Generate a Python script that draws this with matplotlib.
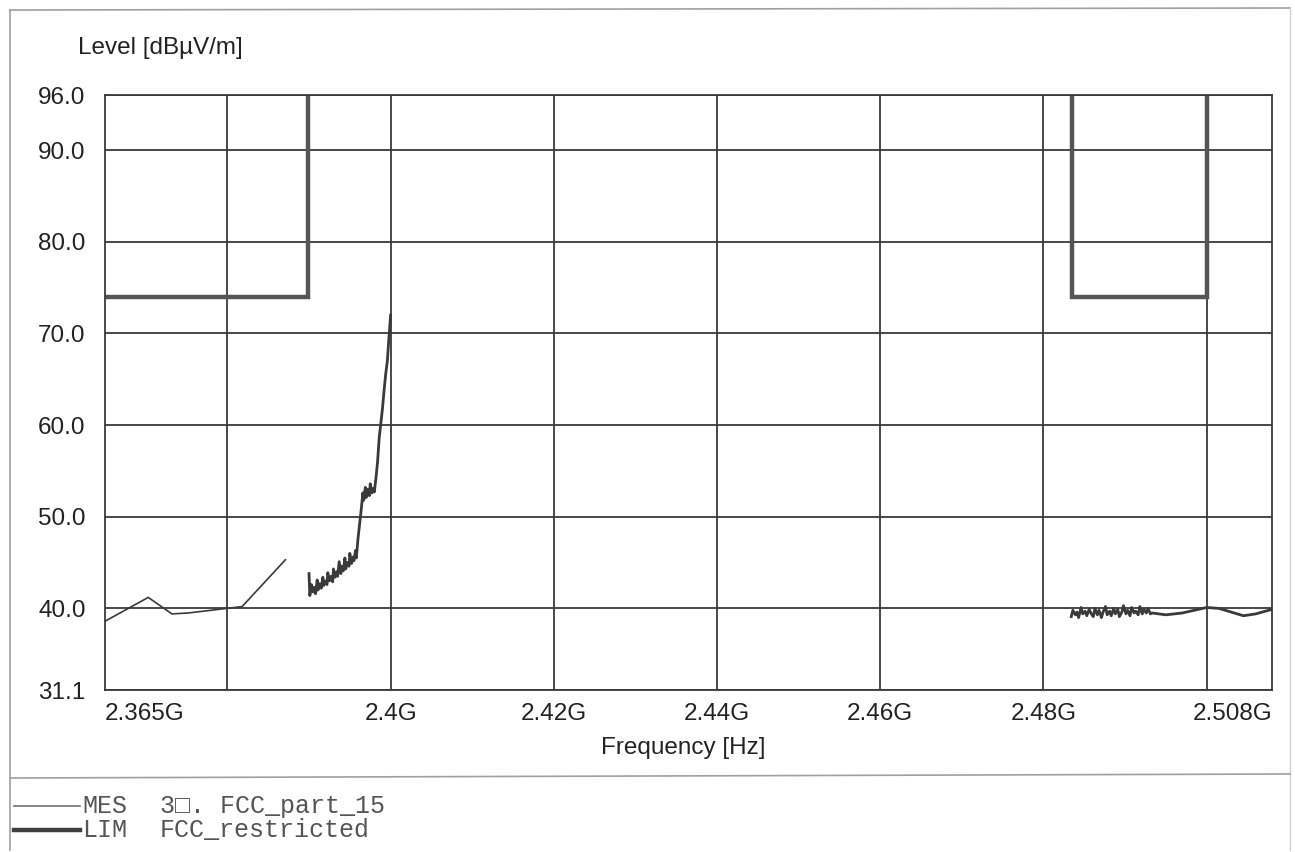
import numpy as np
import matplotlib.pyplot as plt
from matplotlib.lines import Line2D

# measured trace (MES), three sweeps, frequency in GHz, level in dBuV/m
f_scan1 = [2.365, 2.3703, 2.3732, 2.3752, 2.3799, 2.3818, 2.3871]
l_scan1 = [38.6, 41.2, 39.4, 39.5, 40.0, 40.2, 45.3]

f_scan2 = [2.3900, 2.3901, 2.3903, 2.3905, 2.3906, 2.3908, 2.3910, 2.3911, 2.3913, 2.3915,
           2.3917, 2.3918, 2.3920, 2.3922, 2.3923, 2.3925, 2.3927, 2.3929, 2.3930, 2.3932,
           2.3934, 2.3935, 2.3937, 2.3939, 2.3940, 2.3942, 2.3944, 2.3945, 2.3947, 2.3949,
           2.3950, 2.3952, 2.3954, 2.3955, 2.3957, 2.3958, 2.3960, 2.3962, 2.3964, 2.3966,
           2.3967, 2.3969, 2.3970, 2.3972, 2.3974, 2.3975, 2.3977, 2.3979, 2.3980, 2.3982,
           2.3984, 2.3986, 2.3988, 2.3990, 2.3992, 2.3994, 2.3996, 2.3998, 2.4000]
l_scan2 = [43.8, 41.4, 42.6, 41.8, 42.3, 41.6, 43.1, 42.0, 42.7, 42.2,
           43.4, 42.5, 43.0, 42.6, 43.9, 43.0, 43.5, 42.9, 44.3, 43.4,
           44.0, 43.5, 45.1, 43.8, 44.6, 44.1, 45.5, 44.3, 45.0, 44.6,
           46.0, 44.9, 45.6, 45.2, 46.3, 45.5, 47.6, 49.2, 50.8, 52.6,
           51.8, 53.2, 52.1, 53.0, 52.3, 53.6, 52.6, 53.1, 52.7, 54.2,
           56.0, 58.6, 60.2, 61.8, 63.8, 65.6, 67.0, 69.6, 72.0]

f_scan3 = [2.4834, 2.4836, 2.4839, 2.4841, 2.4843, 2.4846, 2.4848, 2.4851, 2.4853, 2.4856,
           2.4858, 2.4861, 2.4863, 2.4866, 2.4868, 2.4871, 2.4873, 2.4876, 2.4878, 2.4881,
           2.4883, 2.4886, 2.4888, 2.4891, 2.4893, 2.4896, 2.4898, 2.4901, 2.4903, 2.4906,
           2.4908, 2.4911, 2.4913, 2.4916, 2.4918, 2.4921, 2.4923, 2.4926, 2.4928, 2.4931,
           2.4933, 2.4950, 2.4970, 2.4990, 2.5000, 2.5015, 2.5030, 2.5045, 2.5060, 2.5080]
l_scan3 = [39.1, 39.8, 39.3, 39.6, 39.0, 40.1, 39.4, 39.7, 39.2, 39.9,
           39.5, 39.1, 40.0, 39.3, 39.8, 39.0, 39.6, 40.2, 39.3, 39.7,
           39.2, 40.0, 39.4, 39.9, 39.1, 39.6, 40.3, 39.4, 39.8, 39.2,
           40.1, 39.5, 39.7, 39.3, 40.2, 39.4, 39.9, 39.5, 40.0, 39.4,
           39.5, 39.3, 39.5, 39.9, 40.1, 40.0, 39.6, 39.2, 39.4, 39.9]

# limit line (LIM), FCC restricted bands
f_lim1 = [2.365, 2.3899, 2.3899]
l_lim1 = [74.0, 74.0, 96.0]
f_lim2 = [2.4835, 2.4835, 2.5, 2.5]
l_lim2 = [96.0, 74.0, 74.0, 96.0]

x_ticks = [2.365, 2.4, 2.42, 2.44, 2.46, 2.48, 2.508]
x_labels = ['2.365G', '2.4G', '2.42G', '2.44G', '2.46G', '2.48G', '2.508G']
x_grid = [2.38, 2.40, 2.42, 2.44, 2.46, 2.48, 2.50]
y_ticks = [31.1, 40, 50, 60, 70, 80, 90, 96]
y_labels = ['31.1', '40.0', '50.0', '60.0', '70.0', '80.0', '90.0', '96.0']

plt.rcParams['font.family'] = ['Liberation Sans', 'DejaVu Sans']
ink = '#3a3a3a'
txt = '#222222'

fig = plt.figure(figsize=(12.95, 8.52), dpi=100)
ax = fig.add_axes([105/1295, 1-690/852, (1272-105)/1295, (690-95)/852])

ax.plot(f_scan1, l_scan1, color=ink, lw=1.2)
ax.plot(f_scan2, l_scan2, color=ink, lw=2.0)
ax.plot(f_scan3, l_scan3, color=ink, lw=2.0)
ax.plot(f_lim1, l_lim1, color='#555555', lw=3.2, solid_joinstyle='miter')
ax.plot(f_lim2, l_lim2, color='#555555', lw=3.2, solid_joinstyle='miter')

ax.set_xlim(2.365, 2.508)
ax.set_ylim(31.1, 96.0)
ax.set_xticks(x_ticks)
ax.set_xticklabels(x_labels, fontsize=17.5, color=txt)
ax.set_xticks(x_grid, minor=True)
ax.xaxis.remove_overlapping_locs = False
ax.set_yticks(y_ticks)
ax.set_yticklabels(y_labels, fontsize=17.5, color=txt)
ax.tick_params(axis='both', which='both', length=0)
ax.tick_params(axis='x', pad=9)
ax.tick_params(axis='y', pad=14)
xl = ax.get_xticklabels()
xl[0].set_ha('left')
xl[-1].set_ha('right')
ax.grid(which='minor', axis='x', color=ink, lw=1.3)
ax.grid(which='major', axis='y', color=ink, lw=1.3)
for s in ax.spines.values():
    s.set_color(ink)
    s.set_linewidth(1.3)

fig.text(78/1295, 1-48/852, 'Level [dBµV/m]', fontsize=17.5, color=txt, va='center')
fig.text(683/1295, 1-748/852, 'Frequency [Hz]', fontsize=17.5, color=txt, ha='center', va='center')

# scanned page frame and legend box
frame = '#a0a0a0'
fig.add_artist(Line2D([10/1295, 1290/1295], [1-10/852, 1-8/852], color=frame, lw=1.2))
fig.add_artist(Line2D([10/1295, 10/1295], [1-10/852, 1-850/852], color=frame, lw=1.2))
fig.add_artist(Line2D([1290/1295, 1290/1295], [1-8/852, 1-850/852], color='#d0d0d0', lw=1.0))
fig.add_artist(Line2D([10/1295, 1290/1295], [1-778/852, 1-774/852], color=frame, lw=1.2))

fig.add_artist(Line2D([14/1295, 80/1295], [1-806/852, 1-806/852], color='#707070', lw=1.2))
fig.add_artist(Line2D([14/1295, 80/1295], [1-830/852, 1-830/852], color='#404040', lw=3.2))
mono = dict(fontsize=18, family='Liberation Mono', color='#555555', va='center')
fig.text(82/1295, 1-806/852, 'MES', **mono)
fig.text(160/1295, 1-806/852, '3\u25a1. FCC_part_15', **mono)
fig.text(82/1295, 1-830/852, 'LIM', **mono)
fig.text(160/1295, 1-830/852, 'FCC_restricted', **mono)

fig.savefig('out.png', dpi=100)
